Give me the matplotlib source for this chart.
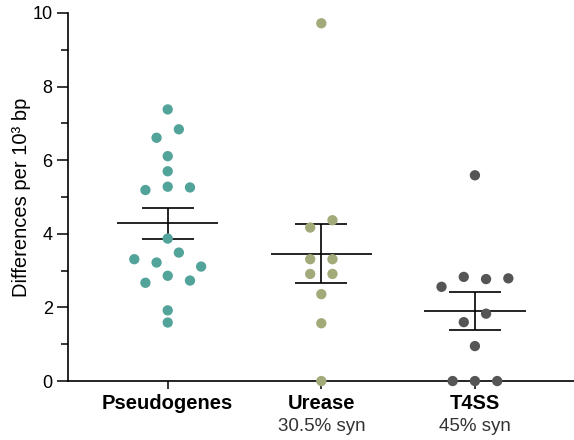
import matplotlib

matplotlib.use("Agg")
import matplotlib.pyplot as plt
import numpy as np

plt.rcParams["font.family"] = ["Liberation Sans", "DejaVu Sans"]

# data (differences per 10^3 bp)
categories = ["Pseudogenes", "Urease", "T4SS"]
subtitles = ["", "30.5% syn", "45% syn"]
pseudogenes = [7.38, 6.84, 6.61, 6.11, 5.70, 5.28, 5.26, 5.19, 3.87,
               3.49, 3.22, 3.11, 3.31, 2.86, 2.73, 2.67, 1.92, 1.59]
urease = [9.72, 4.37, 4.17, 3.31, 3.31, 2.91, 2.91, 2.36, 1.57, 0.0]
t4ss = [5.59, 2.77, 2.83, 2.79, 2.56, 1.83, 1.60, 0.95, 0.0, 0.0, 0.0]
groups = [pseudogenes, urease, t4ss]
colors = ["#52a39a", "#a3aa7a", "#555555"]

SWARM_STEP = 0.145
BIN_GAP = 0.245


def swarm_offsets(values, step=SWARM_STEP, gap=BIN_GAP):
    """GraphPad-like column scatter: close values share a row, spread symmetrically."""
    values = np.asarray(values, dtype=float)
    order = np.argsort(-values, kind="stable")
    bins, current = [], [order[0]]
    for prev, idx in zip(order[:-1], order[1:]):
        if values[prev] - values[idx] < gap:
            current.append(idx)
        else:
            bins.append(current)
            current = [idx]
    bins.append(current)

    offsets = np.zeros(len(values))
    for b in bins:
        n = len(b)
        if n % 2:
            slots = [0]
            for k in range(1, n // 2 + 1):
                slots += [k, -k]
        else:
            slots = []
            for k in range(n // 2):
                slots += [k + 0.5, -(k + 0.5)]
        for idx, slot in zip(sorted(b), slots):
            offsets[idx] = slot * step
    return offsets


fig = plt.figure(figsize=(5.74, 4.4), dpi=100)
ax = fig.add_axes([0.1185, 0.134, 0.8815, 0.8365])

for i, (vals, color) in enumerate(zip(groups, colors)):
    vals = np.asarray(vals)
    ax.scatter(i + swarm_offsets(vals), vals, s=55, color=color,
               edgecolors="none", zorder=3, clip_on=False)

    mean = vals.mean()
    sem = vals.std(ddof=1) / np.sqrt(len(vals))
    line_kw = dict(color="black", linewidth=1.2, zorder=2, solid_capstyle="butt")
    ax.plot([i - 0.33, i + 0.33], [mean, mean], **line_kw)
    ax.plot([i - 0.17, i + 0.17], [mean + sem] * 2, **line_kw)
    ax.plot([i - 0.17, i + 0.17], [mean - sem] * 2, **line_kw)
    ax.plot([i, i], [mean - sem, mean + sem], **line_kw)

ax.set_xlim(-0.649, 2.645)
ax.set_ylim(0, 10)

ax.set_yticks(np.arange(0, 11, 2))
ax.set_yticks(np.arange(1, 10, 2), minor=True)
ax.set_xticks(range(len(categories)))
ax.set_xticklabels(categories, fontweight="bold", fontsize=14.5)

for i, sub in enumerate(subtitles):
    if sub:
        ax.annotate(sub, xy=(i, 0), xycoords=("data", "axes fraction"),
                    xytext=(0, -33), textcoords="offset points",
                    ha="center", va="center", fontsize=13.5, color="#333333")

ax.tick_params(axis="y", which="major", length=8, width=1.1, labelsize=13, pad=3)
ax.tick_params(axis="y", which="minor", length=5, width=1.1)
ax.tick_params(axis="x", length=6, width=1.1, pad=3)

ax.set_ylabel("Differences per 10³ bp", fontsize=14.5, labelpad=1.5)

for side in ["top", "right"]:
    ax.spines[side].set_visible(False)
for side in ["left", "bottom"]:
    ax.spines[side].set_linewidth(1.2)

fig.savefig("out.png", dpi=100)
